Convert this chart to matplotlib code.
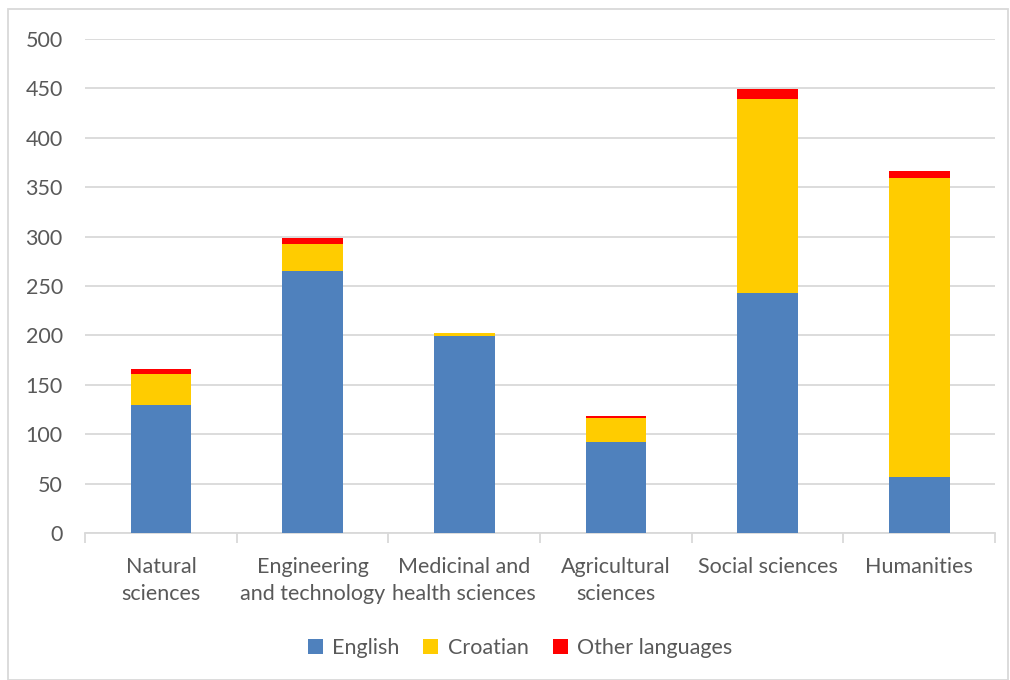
import matplotlib
matplotlib.use('Agg')
import matplotlib.pyplot as plt
from matplotlib.patches import Rectangle
import numpy as np

# data
categories = ['Natural\nsciences', 'Engineering\nand technology', 'Medicinal and\nhealth sciences',
              'Agricultural\nsciences', 'Social sciences', 'Humanities']
english = [130, 265, 199, 92, 243, 57]
croatian = [31, 27, 3, 24, 196, 302]
other = [5, 7, 0, 2, 10, 7]

col_en = '#4F81BD'
col_hr = '#FFCC00'
col_ot = '#FF0000'
txt = '#595959'

plt.rcParams['font.family'] = ['Lato', 'DejaVu Sans']

fig = plt.figure(figsize=(10.1, 6.8), dpi=100)
ax = fig.add_axes([0.0842, 0.2162, 0.901, 0.7265])

x = np.arange(len(categories))
w = 0.4
en = np.array(english)
hr = np.array(croatian)
ot = np.array(other)
ax.bar(x, en, w, color=col_en, label='English', zorder=3)
ax.bar(x, hr, w, bottom=en, color=col_hr, label='Croatian', zorder=3)
ax.bar(x, ot, w, bottom=en + hr, color=col_ot, label='Other languages', zorder=3)

ax.set_xlim(-0.5, len(categories) - 0.5)
ax.set_ylim(0, 500)
ax.set_yticks(range(0, 501, 50))
ax.yaxis.grid(True, color='#D9D9D9', linewidth=1.3, zorder=0)
ax.tick_params(axis='y', length=0, labelsize=15.5, labelcolor=txt, pad=16)

ax.set_xticks(x)
ax.set_xticklabels(categories, linespacing=1.45)
ax.set_xticks(np.arange(-0.5, len(categories), 1), minor=True)
ax.tick_params(axis='x', which='major', length=0, labelsize=15.5, labelcolor=txt, pad=17)
ax.tick_params(axis='x', which='minor', length=7, color='#D9D9D9', width=1.3)

for s in ['top', 'right', 'left']:
    ax.spines[s].set_visible(False)
ax.spines['bottom'].set_color('#D9D9D9')
ax.spines['bottom'].set_linewidth(1.3)

fig.legend(loc='center', bbox_to_anchor=(0.515, 0.047), ncol=3, frameon=False,
           fontsize=15.5, labelcolor=txt, handlelength=0.7, handleheight=0.7,
           handletextpad=0.45, columnspacing=1.1)

fig.patches.append(Rectangle((8 / 1010, 0), 1000 / 1010, 671 / 680, transform=fig.transFigure,
                             fill=False, edgecolor='#D9D9D9', linewidth=1.3))

fig.savefig('out.png', dpi=100)
